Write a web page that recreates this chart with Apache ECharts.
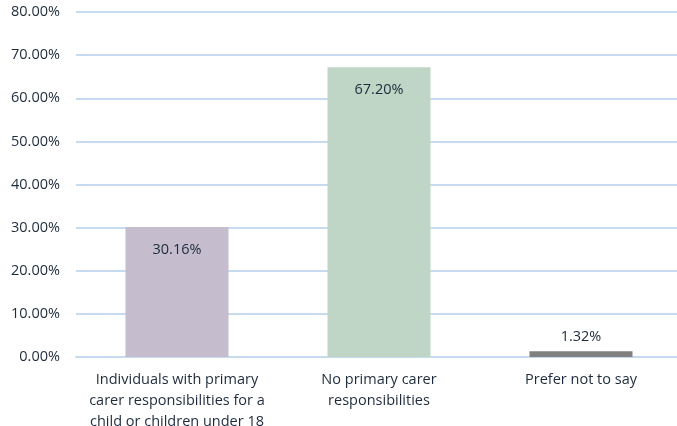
<!DOCTYPE html>
<html><head><meta charset="utf-8">
<script src="https://cdn.jsdelivr.net/npm/echarts@6/dist/echarts.min.js"></script>
<style>html,body{margin:0;padding:0;background:#fff}#c{width:677px;height:426px}</style>
</head><body><div id="c"></div>
<script>
const categories = ["Individuals with primary\ncarer responsibilities for a\nchild or children under 18", "No primary carer\nresponsibilities", "Prefer not to say"];
const values = [30.16, 67.20, 1.32];
const barColors = ["#c5bdcd", "#bfd5c5", "#808080"];
const labelInside = [true, true, false];

const chart = echarts.init(document.getElementById('c'));
const textColor = '#1e2b3c';
const font = 'Open Sans';
chart.setOption({
  animation: false,
  grid: { left: 76, right: -5, top: 12, bottom: 69, outerBoundsMode: 'none', containLabel: false },
  xAxis: {
    type: 'category', data: categories,
    axisLine: { show: true, lineStyle: { color: '#c6daf0', width: 2 } },
    axisTick: { show: false },
    axisLabel: { color: textColor, fontFamily: font, fontSize: 14.5, lineHeight: 21, margin: 12, interval: 0 }
  },
  yAxis: {
    type: 'value', min: 0, max: 80, interval: 10,
    axisLine: { show: false }, axisTick: { show: false },
    splitLine: { lineStyle: { color: '#c6daf0', width: 2 } },
    axisLabel: { color: textColor, fontFamily: font, fontSize: 14.5, margin: 16, formatter: v => v.toFixed(2) + '%' }
  },
  series: [{
    type: 'bar', barCategoryGap: '49%',
    data: values.map((v, i) => ({
      value: v,
      itemStyle: { color: barColors[i] },
      label: {
        show: true,
        position: labelInside[i] ? 'insideTop' : 'top',
        distance: labelInside[i] ? 15 : 7,
        color: textColor, fontFamily: font, fontSize: 14.5,
        formatter: p => p.value.toFixed(2) + '%'
      }
    }))
  }]
});
</script></body></html>
